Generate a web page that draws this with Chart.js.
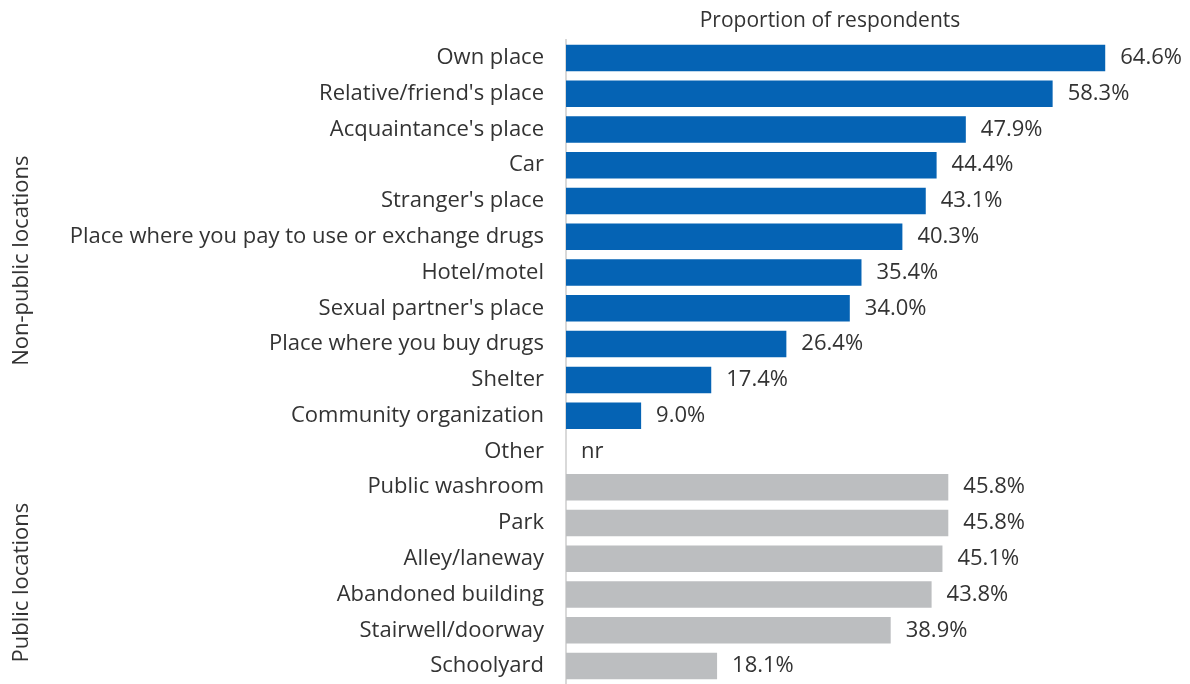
<!DOCTYPE html>
<html>
<head>
<meta charset="utf-8">
<script src="https://cdn.jsdelivr.net/npm/chart.js@4/dist/chart.umd.min.js"></script>
<style>
  html, body { margin: 0; padding: 0; background: #fff; }
  #wrap { width: 1190px; height: 684px; }
</style>
</head>
<body>
<div id="wrap"><canvas id="chart"></canvas></div>
<script>
// data
const nonPublicLabels = ["Own place", "Relative/friend's place", "Acquaintance's place", "Car",
    "Stranger's place", "Place where you pay to use or exchange drugs", "Hotel/motel",
    "Sexual partner's place", "Place where you buy drugs", "Shelter", "Community organization", "Other"];
const nonPublicValues = [64.6, 58.3, 47.9, 44.4, 43.1, 40.3, 35.4, 34.0, 26.4, 17.4, 9.0, null];
const publicLabels = ["Public washroom", "Park", "Alley/laneway", "Abandoned building",
    "Stairwell/doorway", "Schoolyard"];
const publicValues = [45.8, 45.8, 45.1, 43.8, 38.9, 18.1];
const groupNames = ["Non-public locations", "Public locations"];
const axisTitle = "Proportion of respondents";

const labels = nonPublicLabels.concat(publicLabels);
const values = nonPublicValues.concat(publicValues);
const colors = nonPublicValues.map(() => "#0563b4").concat(publicValues.map(() => "#bcbec0"));

const FONT = "'Open Sans', sans-serif";
const SIZE = 22;
const TEXT = "#333333";

// value labels at the end of each bar, "nr" where there is no value
const valueLabels = {
    id: "valueLabels",
    afterDatasetsDraw(chart) {
        const ctx = chart.ctx;
        const meta = chart.getDatasetMeta(0);
        const xs = chart.scales.x;
        ctx.save();
        ctx.font = SIZE + "px " + FONT;
        ctx.fillStyle = TEXT;
        ctx.textBaseline = "middle";
        ctx.textAlign = "left";
        meta.data.forEach((bar, i) => {
            const v = values[i];
            if (v === null) {
                ctx.fillText("nr", xs.getPixelForValue(0) + 15, chart.scales.y.getPixelForValue(i));
            } else {
                ctx.fillText(v.toFixed(1) + "%", bar.x + 15, bar.y);
            }
        });
        ctx.restore();
    }
};

// rotated group names on the left, and the heading over the bars
const extraText = {
    id: "extraText",
    afterDraw(chart) {
        const ctx = chart.ctx;
        const ys = chart.scales.y;
        const area = chart.chartArea;
        const ranges = [[0, nonPublicLabels.length - 1], [nonPublicLabels.length, labels.length - 1]];
        ctx.save();
        ctx.font = SIZE + "px " + FONT;
        ctx.fillStyle = TEXT;
        ctx.textAlign = "center";
        ctx.textBaseline = "middle";
        ranges.forEach((r, g) => {
            const y = (ys.getPixelForValue(r[0]) + ys.getPixelForValue(r[1])) / 2;
            ctx.save();
            ctx.translate(22, y + 6);
            ctx.rotate(-Math.PI / 2);
            ctx.fillText(groupNames[g], 0, 0);
            ctx.restore();
        });
        ctx.font = "21px " + FONT;
        ctx.fillText(axisTitle, area.left + 264, 21);
        ctx.restore();
    }
};

new Chart(document.getElementById("chart"), {
    type: "bar",
    data: {
        labels: labels,
        datasets: [{
            data: values,
            backgroundColor: colors,
            borderWidth: 0,
            categoryPercentage: 1,
            barPercentage: 0.74
        }]
    },
    options: {
        indexAxis: "y",
        responsive: true,
        maintainAspectRatio: false,
        animation: false,
        layout: {padding: {left: 0, right: 18, top: 0, bottom: 0}},
        plugins: {legend: {display: false}, tooltip: {enabled: false}},
        scales: {
            x: {
                position: "top",
                min: 0,
                max: 72.6,
                grid: {display: false},
                border: {display: false},
                ticks: {display: false},
                afterFit(s) { s.height = 40; }
            },
            y: {
                grid: {display: false},
                border: {display: true, color: "#d9d9d9", width: 2},
                ticks: {
                    color: TEXT,
                    padding: 14,
                    font: {family: FONT, size: SIZE}
                },
                afterFit(s) {
                    s.width = 566;
                    s.paddingTop = 0;
                    s.paddingBottom = 0;
                }
            }
        }
    },
    plugins: [valueLabels, extraText]
});
</script>
</body>
</html>
